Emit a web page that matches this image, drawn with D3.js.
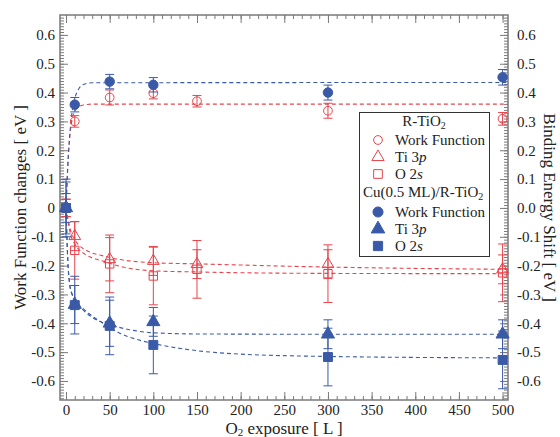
<!DOCTYPE html>
<html>
<head>
<meta charset="utf-8">
<script src="https://cdn.jsdelivr.net/npm/d3@7"></script>
<style>
  body { margin: 0; background: #fff; }
</style>
</head>
<body>
<div id="chart"></div>
<script>
var width = 560;
var height = 437;
var left = 60, top_ = 15, right = 508, bottom = 400;
var serif = "Liberation Serif";

var red = "#e8434b";
var blue = "#3a5aa8";

// tick labels
var xTicks = [0, 50, 100, 150, 200, 250, 300, 350, 400, 450, 500];
var yTicks = [-0.6, -0.5, -0.4, -0.3, -0.2, -0.1, 0, 0.1, 0.2, 0.3, 0.4, 0.5, 0.6];

// R-TiO2 measurements
var rExposure = [0, 10, 50, 100, 150, 300, 500];
var rWF = [0, 0.300, 0.383, 0.398, 0.370, 0.337, 0.309];
var rWFErr = [0.03, 0.02, 0.026, 0.02, 0.02, 0.026, 0.022];
var rTi = [0, -0.098, -0.178, -0.184, -0.195, -0.195, -0.213];
var rTiErr = [0.03, 0.05, 0.075, 0.05, 0.05, 0.05, 0.05];
var rO = [0, -0.147, -0.194, -0.236, -0.213, -0.228, -0.225];
var rOErr = [0.03, 0.1, 0.1, 0.1, 0.1, 0.1, 0.1];

// Cu(0.5 ML)/R-TiO2 measurements
var cuExposure = [0, 10, 50, 100, 300, 500];
var cuWF = [0, 0.358, 0.438, 0.427, 0.400, 0.453];
var cuWFErr = [0.09, 0.025, 0.025, 0.025, 0.026, 0.027];
var cuTi = [0, -0.335, -0.400, -0.395, -0.438, -0.438];
var cuTiErr = [0.05, 0.066, 0.08, 0.05, 0.05, 0.05];
var cuO = [0, -0.337, -0.409, -0.475, -0.517, -0.527];
var cuOErr = [0.1, 0.1, 0.1, 0.1, 0.1, 0.1];

// fitted curves as [exposure, value]
var rWFFit = [[0, 0], [2, 0.15], [4, 0.24], [6, 0.29], [8, 0.32], [10, 0.335], [14, 0.35], [20, 0.357], [30, 0.36], [506, 0.36]];
var cuWFFit = [[0, 0], [2, 0.14], [4, 0.24], [6, 0.31], [8, 0.355], [10, 0.38], [15, 0.415], [20, 0.428], [30, 0.434], [506, 0.435]];
var rTiFit = [[0, 0], [3, -0.05], [6, -0.085], [10, -0.11], [15, -0.13], [22, -0.145], [45, -0.168], [60, -0.178], [100, -0.19], [150, -0.194], [300, -0.205], [506, -0.213]];
var rOFit = [[0, 0], [3, -0.06], [6, -0.1], [10, -0.125], [15, -0.145], [22, -0.161], [45, -0.187], [65, -0.205], [100, -0.218], [150, -0.222], [300, -0.227], [506, -0.228]];
var cuTiFit = [[0, 0], [1, -0.1], [2, -0.18], [4, -0.26], [7, -0.3], [10, -0.32], [20, -0.355], [30, -0.38], [40, -0.395], [50, -0.405], [62, -0.415], [100, -0.433], [150, -0.437], [300, -0.438], [506, -0.438]];
var cuOFit = [[0, 0], [1, -0.1], [2, -0.18], [4, -0.26], [7, -0.3], [10, -0.32], [20, -0.35], [30, -0.375], [40, -0.395], [50, -0.415], [62, -0.435], [80, -0.455], [100, -0.47], [150, -0.495], [200, -0.507], [300, -0.515], [506, -0.52]];

var svg = d3.select("#chart")
    .append("svg")
    .attr("width", width)
    .attr("height", height)
    .style("font-family", serif);

var x = d3.scaleLinear().domain([-6.9, 506.2]).range([left, right]);
var y = d3.scaleLinear().domain([-0.666, 0.669]).range([bottom, top_]);

var frameColor = "#7a7a7a";
var minorY = d3.range(-66, 67).map(d => d / 100);
var minorX = d3.range(0, 510, 10);

function styleAxis(g) {
    g.attr("font-family", null).attr("font-size", null);
    g.select(".domain").remove();
    g.selectAll("line").attr("stroke", frameColor).attr("stroke-width", 1);
    g.selectAll("text")
        .style("font-family", serif)
        .style("font-size", "15px")
        .attr("fill", "#222");
}

// left axis
svg.append("g").attr("transform", `translate(${left},0)`)
    .call(d3.axisLeft(y).tickValues(minorY).tickSizeInner(-4).tickSizeOuter(0).tickFormat(""))
    .call(styleAxis);
svg.append("g").attr("transform", `translate(${left},0)`)
    .call(d3.axisLeft(y).tickValues(yTicks).tickSizeInner(-8).tickSizeOuter(0).tickPadding(5)
        .tickFormat(d => Math.abs(d) < 1e-9 ? "0" : d.toFixed(1)))
    .call(styleAxis);

// right axis
svg.append("g").attr("transform", `translate(${right},0)`)
    .call(d3.axisRight(y).tickValues(minorY).tickSizeInner(-4).tickSizeOuter(0).tickFormat(""))
    .call(styleAxis);
svg.append("g").attr("transform", `translate(${right},0)`)
    .call(d3.axisRight(y).tickValues(yTicks).tickSizeInner(-8).tickSizeOuter(0).tickPadding(9)
        .tickFormat(d => Math.abs(d) < 1e-9 ? "0.0" : d.toFixed(1)))
    .call(styleAxis);

// bottom axis
svg.append("g").attr("transform", `translate(0,${bottom})`)
    .call(d3.axisBottom(x).tickValues(minorX).tickSizeInner(-4).tickSizeOuter(0).tickFormat(""))
    .call(styleAxis);
svg.append("g").attr("transform", `translate(0,${bottom})`)
    .call(d3.axisBottom(x).tickValues(xTicks).tickSizeInner(-8).tickSizeOuter(0).tickPadding(4))
    .call(styleAxis);

// top axis
svg.append("g").attr("transform", `translate(0,${top_})`)
    .call(d3.axisTop(x).tickValues(minorX).tickSizeInner(-4).tickSizeOuter(0).tickFormat(""))
    .call(styleAxis);
svg.append("g").attr("transform", `translate(0,${top_})`)
    .call(d3.axisTop(x).tickValues(xTicks).tickSizeInner(-8).tickSizeOuter(0).tickFormat(""))
    .call(styleAxis);

svg.append("rect")
    .attr("x", left).attr("y", top_)
    .attr("width", right - left).attr("height", bottom - top_)
    .attr("fill", "none")
    .attr("stroke", frameColor)
    .attr("stroke-width", 1.5);

// fits
var line = d3.line()
    .x(d => x(d[0]))
    .y(d => y(d[1]))
    .curve(d3.curveMonotoneX);

var fits = [
    {pts: rWFFit, c: red}, {pts: rTiFit, c: red}, {pts: rOFit, c: red},
    {pts: cuWFFit, c: blue}, {pts: cuTiFit, c: blue}, {pts: cuOFit, c: blue}
];
fits.forEach(f => {
    svg.append("path")
        .datum(f.pts)
        .attr("d", line)
        .attr("fill", "none")
        .attr("stroke", f.c)
        .attr("stroke-width", 1.1)
        .attr("stroke-dasharray", "4,3");
});

// series
var series = [
    {xs: rExposure, vs: rWF, es: rWFErr, c: red, shape: d3.symbolCircle, size: 60, filled: false},
    {xs: rExposure, vs: rTi, es: rTiErr, c: red, shape: d3.symbolTriangle, size: 60, filled: false},
    {xs: rExposure, vs: rO, es: rOErr, c: red, shape: d3.symbolSquare, size: 70, filled: false},
    {xs: cuExposure, vs: cuWF, es: cuWFErr, c: blue, shape: d3.symbolCircle, size: 70, filled: true},
    {xs: cuExposure, vs: cuTi, es: cuTiErr, c: blue, shape: d3.symbolTriangle, size: 75, filled: true},
    {xs: cuExposure, vs: cuO, es: cuOErr, c: blue, shape: d3.symbolSquare, size: 80, filled: true}
];

series.forEach(s => {
    var pts = s.xs.map((e, i) => ({x: e, v: s.vs[i], err: s.es[i]}));
    var g = svg.append("g");
    var bars = g.selectAll(".bar").data(pts).enter().append("g");
    bars.append("line")
        .attr("x1", d => x(d.x)).attr("x2", d => x(d.x))
        .attr("y1", d => y(d.v + d.err)).attr("y2", d => y(d.v - d.err))
        .attr("stroke", s.c).attr("stroke-width", 1);
    [1, -1].forEach(k => {
        bars.append("line")
            .attr("x1", d => x(d.x) - 4.5).attr("x2", d => x(d.x) + 4.5)
            .attr("y1", d => y(d.v + k * d.err)).attr("y2", d => y(d.v + k * d.err))
            .attr("stroke", s.c).attr("stroke-width", 1);
    });
    g.selectAll(".mark").data(pts).enter().append("path")
        .attr("d", d3.symbol().type(s.shape).size(s.size))
        .attr("transform", d => `translate(${x(d.x)},${y(d.v)})`)
        .attr("fill", s.filled ? s.c : "none")
        .attr("stroke", s.c)
        .attr("stroke-width", 1);
});

// axis titles
svg.append("text")
    .attr("x", (left + right) / 2)
    .attr("y", 434)
    .attr("text-anchor", "middle")
    .attr("fill", "#222")
    .style("font-family", serif)
    .style("font-size", "17px")
    .html('O<tspan font-size="11px" dy="2">2</tspan><tspan dy="-2"> exposure [ L ]</tspan>');

svg.append("text")
    .attr("transform", `translate(26,${(top_ + bottom) / 2}) rotate(-90)`)
    .attr("text-anchor", "middle")
    .attr("fill", "#222")
    .style("font-family", serif)
    .style("font-size", "17px")
    .text("Work Function changes [ eV ]");

svg.append("text")
    .attr("transform", `translate(544,${(top_ + bottom) / 2}) rotate(90)`)
    .attr("text-anchor", "middle")
    .attr("fill", "#222")
    .style("font-family", serif)
    .style("font-size", "17px")
    .text("Binding Energy Shift [ eV ]");

// legend
var lg = svg.append("g");
lg.append("rect")
    .attr("x", 359.5).attr("y", 112.5)
    .attr("width", 130).attr("height", 144)
    .attr("fill", "#fff")
    .attr("stroke", "#333")
    .attr("stroke-width", 1);

lg.append("text")
    .attr("x", 424).attr("y", 126)
    .attr("text-anchor", "middle")
    .attr("fill", "#222")
    .style("font-family", serif)
    .style("font-size", "15px")
    .html('R-TiO<tspan font-size="10px" dy="3">2</tspan>');

lg.append("text")
    .attr("x", 363).attr("y", 197)
    .attr("fill", "#222")
    .style("font-family", serif)
    .style("font-size", "15px")
    .html('Cu(0.5 ML)/R-TiO<tspan font-size="10px" dy="3">2</tspan>');

var legendItems = [
    {label: "Work Function", ital: "", c: red, shape: d3.symbolCircle, size: 60, filled: false, yy: 140},
    {label: "Ti 3", ital: "p", c: red, shape: d3.symbolTriangle, size: 65, filled: false, yy: 157},
    {label: "O 2", ital: "s", c: red, shape: d3.symbolSquare, size: 75, filled: false, yy: 174},
    {label: "Work Function", ital: "", c: blue, shape: d3.symbolCircle, size: 80, filled: true, yy: 212},
    {label: "Ti 3", ital: "p", c: blue, shape: d3.symbolTriangle, size: 80, filled: true, yy: 229},
    {label: "O 2", ital: "s", c: blue, shape: d3.symbolSquare, size: 85, filled: true, yy: 246}
];

legendItems.forEach(it => {
    lg.append("path")
        .attr("d", d3.symbol().type(it.shape).size(it.size))
        .attr("transform", `translate(378,${it.yy})`)
        .attr("fill", it.filled ? it.c : "none")
        .attr("stroke", it.c)
        .attr("stroke-width", 1);
    var t = lg.append("text")
        .attr("x", 395).attr("y", it.yy + 5)
        .attr("fill", "#222")
        .style("font-family", serif)
        .style("font-size", "15px")
        .text(it.label);
    if (it.ital) {
        t.append("tspan").style("font-style", "italic").text(it.ital);
    }
});
</script>
</body>
</html>
